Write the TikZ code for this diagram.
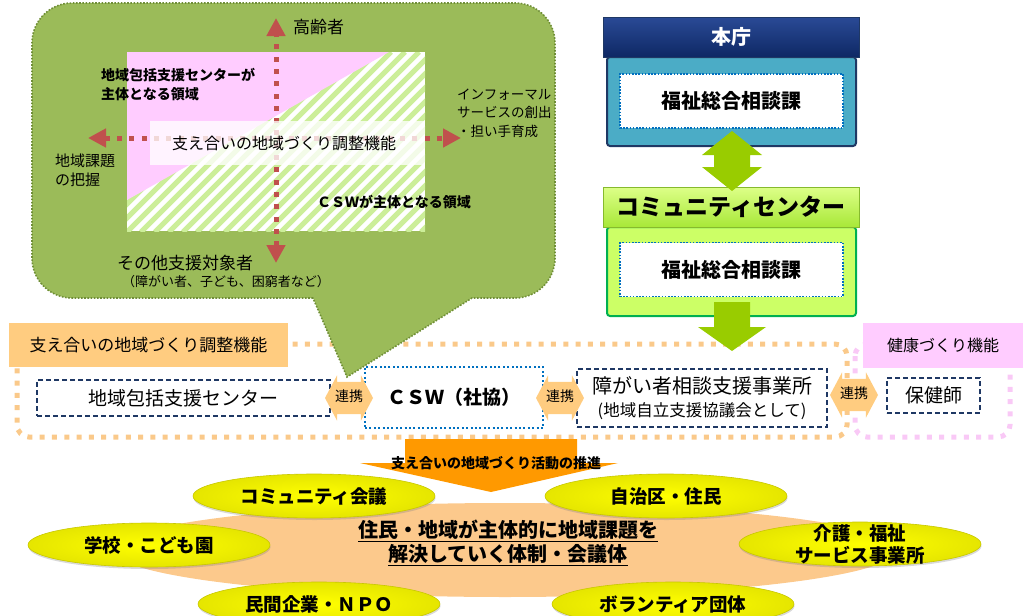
\documentclass[tikz,border=0pt]{standalone}
\usepackage{fontspec}
\setmainfont{Noto Sans CJK JP}
\usetikzlibrary{arrows.meta,shapes.geometric,shapes.arrows,shadows}

\definecolor{bubblegreen}{HTML}{9BBB59}
\definecolor{bubbleline}{HTML}{6F8E36}
\definecolor{pinkarea}{HTML}{FFCCFF}
\definecolor{stripegreen}{HTML}{CCEE99}
\definecolor{redline}{HTML}{C0504D}
\definecolor{navytop}{HTML}{2A4A96}
\definecolor{navyfill}{HTML}{0E2864}
\definecolor{navyline}{HTML}{1F3864}
\definecolor{honchoteal}{HTML}{4BACC6}
\definecolor{limefill}{HTML}{CCFF66}
\definecolor{limetop}{HTML}{DDFF88}
\definecolor{limehead}{HTML}{A8E838}
\definecolor{greenline}{HTML}{00B050}
\definecolor{arrowgreen}{HTML}{99CC00}
\definecolor{dotblue}{HTML}{0070C0}
\definecolor{paleorange}{HTML}{FFCC80}
\definecolor{dotorange}{HTML}{FAC98A}
\definecolor{dotpink}{HTML}{F9C9F6}
\definecolor{deeporange}{HTML}{FF9900}
\definecolor{lensorange}{HTML}{FCC98C}
\definecolor{ovalyellow}{HTML}{FFFF00}
\definecolor{ovalrim}{HTML}{C8C800}

\newcommand\fsz[2]{\fontsize{#1pt}{#2pt}\selectfont}

\begin{document}
\begin{tikzpicture}[x=1pt,y=-1pt,
  txt/.style={inner sep=0pt},
  redarrow/.style={draw=redline, line width=5pt, dash pattern=on 5pt off 7.3pt,
    arrows={Triangle[width=18pt,length=18pt]-Triangle[width=18pt,length=18pt]}},
  headbox/.style={rectangle, minimum width=256pt, minimum height=40pt, line width=1pt},
  bodybox/.style={rectangle, rounded corners=3pt, minimum width=249pt, minimum height=89pt, line width=2pt},
  kabox/.style={rectangle, fill=white, draw=dotblue, line width=1.6pt, dash pattern=on 1.6pt off 1.6pt,
    minimum width=223pt, minimum height=54pt, font=\fsz{20}{24}\bfseries},
  orgbox/.style={rectangle, fill=white, draw=navyline, line width=1.5pt, dash pattern=on 5pt off 3pt, inner sep=0pt},
  tagbox/.style={rectangle, inner sep=0pt},
  fenced/.style={rounded corners=12pt, line width=5pt, dash pattern=on 5pt off 7.3pt},
  renkei/.style={double arrow, fill=paleorange, inner xsep=0pt, inner ysep=9.5pt, text height=10pt, text depth=3pt,
    minimum height=48pt, minimum width=45pt,
    double arrow head extend=6.5pt, double arrow tip angle=124, font=\fsz{14}{16}},
  oval/.style={ellipse, inner sep=0pt, minimum width=242pt, minimum height=44pt, draw=ovalrim, line width=0.6pt,
    inner color=ovalyellow, outer color=ovalyellow!90!black,
    drop shadow={shadow xshift=0.5pt, shadow yshift=-2pt, opacity=0.3},
    font=\fsz{18.5}{22}\bfseries, align=center}
]
\useasboundingbox (0,0) rectangle (1029,616);

% frames of the middle row
\draw[fenced, dotorange] (17,344) rectangle (847,437);
\draw[fenced, dotpink] (855,344) rectangle (1010,437);
\node[tagbox, fill=paleorange, minimum width=279pt, minimum height=44pt, font=\fsz{17}{20}] (chosei) at (148.5,345) {支え合いの地域づくり調整機能};
\node[tagbox, fill=pinkarea, minimum width=160pt, minimum height=45pt, font=\fsz{16}{20}] (kenko) at (943,345.5) {健康づくり機能};

\node[rectangle, fill=white, draw=dotblue, line width=2pt, dash pattern=on 2pt off 2.4pt,
  minimum width=178pt, minimum height=61pt, font=\fsz{19}{22}\bfseries] (csw) at (454,397.5) {ＣＳＷ（社協）};

% speech bubble
\filldraw[fill=bubblegreen, draw=bubbleline, line width=1.6pt, dash pattern=on 1.6pt off 1.6pt]
  (313,298) -- (72,298) arc[start angle=90, end angle=180, radius=40]
  -- (32,43) arc[start angle=180, end angle=270, radius=40]
  -- (515,3) arc[start angle=270, end angle=360, radius=40]
  -- (555,258) arc[start angle=0, end angle=90, radius=40]
  -- (472,298) -- (347,377) -- cycle;

\fill[white] (127,52) rectangle (425,231);
\begin{scope}
  \clip (127,52) rectangle (425,231);
  \foreach \s in {-182,-168,...,300}
    \draw[stripegreen, line width=5pt] (127+\s,232) -- (307+\s,52);
\end{scope}
\fill[pinkarea] (127,52) -- (389,52) -- (127,200) -- cycle;

\coordinate (up) at (276,18);
\coordinate (down) at (276,263);
\coordinate (left) at (88,138);
\coordinate (right) at (461,138);
\draw[redarrow] (down) -- (up);
\draw[redarrow] (left) -- (right);
\fill[white, opacity=0.78] (150,121) rectangle (425,165);

\node[txt, font=\fsz{16}{20}] (band) at (284,143) {支え合いの地域づくり調整機能};
\node[txt, anchor=west, font=\fsz{17}{20}] (elder) at (293,27) {高齢者};
\node[txt, anchor=west, align=left, font=\fsz{14}{19}\bfseries] (hokatsuarea) at (101,85) {地域包括支援センターが\\主体となる領域};
\node[txt, anchor=west, align=left, font=\fsz{13.5}{18.5}] (informal) at (457,113) {インフォーマル\\サービスの創出\\・担い手育成};
\node[txt, anchor=west, align=left, font=\fsz{15}{19}] (kadai) at (55,170) {地域課題\\の把握};
\node[txt, anchor=west, font=\fsz{14}{18}\bfseries] (cswarea) at (317,202) {ＣＳＷが主体となる領域};
\node[txt, font=\fsz{17}{20}] (taisho) at (185,263) {その他支援対象者};
\node[txt, font=\fsz{13}{16}] (taishorei) at (226,282) {（障がい者、子ども、困窮者など）};

% right column
\node[bodybox, fill=honchoteal, draw=navyline] (honchobody) at (731.5,101.5) {};
\node[headbox, top color=navytop, bottom color=navyfill, draw=navyline, text=white,
  font=\fsz{20}{24}\bfseries] (honcho) at (731,37) {本庁};
\node[kabox] (honchoka) at (731.5,101) {福祉総合相談課};

\node[bodybox, fill=limefill, draw=greenline] (ccbody) at (731.5,271.5) {};
\node[headbox, top color=limetop, bottom color=limehead, draw=limehead!80!black,
  font=\fsz{23}{26}\bfseries] (cc) at (731,207) {コミュニティセンター};
\node[kabox] (ccka) at (731.5,269.5) {福祉総合相談課};

% block arrows
\fill[arrowgreen] (732,131) -- (762,155) -- (750,155) -- (750,167) -- (762,167) -- (732,191)
  -- (702,167) -- (714,167) -- (714,155) -- (702,155) -- cycle;
\fill[arrowgreen] (714,302) -- (750,302) -- (750,327) -- (766,327) -- (732,351) -- (698,327) -- (714,327) -- cycle;

% middle row
\node[orgbox, minimum width=293pt, minimum height=36pt, font=\fsz{19}{22}] (hokatsu) at (183.5,398) {地域包括支援センター};
\node[orgbox, minimum width=250pt, minimum height=58pt, align=center, font=\fsz{20}{23}] (shogai) at (702,398)
  {障がい者相談支援事業所\\{\fsz{16.5}{23}(地域自立支援協議会として)}};
\node[orgbox, minimum width=93pt, minimum height=35pt, font=\fsz{19}{22}] (hokenshi) at (933.5,395.5) {保健師};
\node[renkei] (renkei1) at (349,398) {連携};
\node[renkei] (renkei2) at (560,398) {連携};
\node[renkei] (renkei3) at (854,395) {連携};

% bottom
\fill[deeporange] (405,439) -- (577,439) -- (577,463) -- (618,463) -- (491,492) -- (360,463) -- (405,463) -- cycle;
\node[txt, font=\fsz{14}{16}\bfseries] (pushtext) at (496,463) {支え合いの地域づくり活動の推進};

\node[ellipse, fill=lensorange, inner sep=0pt, minimum width=784pt, minimum height=94pt] (lens) at (505,550) {};
\node[txt, align=center, font=\fsz{20}{24}\bfseries] (taisei) at (508,543)
  {\underline{住民・地域が主体的に地域課題を}\\\underline{解決していく体制・会議体}};

\node[oval] (kaigi) at (314,496) {コミュニティ会議};
\node[oval] (jichiku) at (666,496) {自治区・住民};
\node[oval] (gakko) at (149,545) {学校・こども園};
\node[oval] (kaigo) at (860,544) {};
\node[txt, align=center, font=\fsz{18.5}{22}\bfseries] (kaigotext) at (kaigo) {介護・福祉\\サービス事業所};
\node[oval] (kigyo) at (319,604) {民間企業・ＮＰＯ};
\node[oval] (volunteer) at (673,604) {ボランティア団体};
\end{tikzpicture}
\end{document}
